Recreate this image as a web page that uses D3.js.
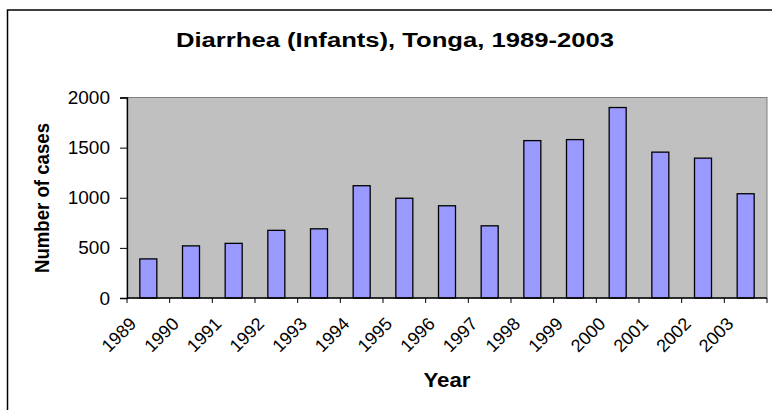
<!DOCTYPE html>
<html>
<head>
<meta charset="utf-8">
<script src="https://cdn.jsdelivr.net/npm/d3@7"></script>
<style>
  body { margin: 0; background: #fff; }
  text { font-family: Arial, "Liberation Sans", sans-serif; }
</style>
</head>
<body>
<div id="chart"></div>
<script>
// data
var years = ["1989", "1990", "1991", "1992", "1993", "1994", "1995", "1996",
             "1997", "1998", "1999", "2000", "2001", "2002", "2003"];
var cases = [390, 520, 545, 675, 690, 1120, 995, 920,
             720, 1570, 1580, 1900, 1455, 1395, 1040];
var yTicks = [0, 500, 1000, 1500, 2000];

var width = 772,
    height = 410;

var margin = { left: 127, right: 5, top: 97.5, bottom: 112 };
var plotW = width - margin.left - margin.right,
    plotH = height - margin.top - margin.bottom;

var svg = d3.select("#chart").append("svg")
    .attr("width", width)
    .attr("height", height);

// outer chart frame (runs off the right and bottom of the picture)
svg.append("rect")
    .attr("x", 7.5)
    .attr("y", 10)
    .attr("width", 800)
    .attr("height", 500)
    .style("fill", "none")
    .style("stroke", "black")
    .style("stroke-width", 1.5);

// the original font renders wider than Arial, so stretch titles to the measured length
svg.append("text")
    .attr("x", 395)
    .attr("y", 46.7)
    .attr("text-anchor", "middle")
    .attr("font-size", 20)
    .attr("font-weight", "bold")
    .attr("textLength", 438)
    .attr("lengthAdjust", "spacingAndGlyphs")
    .text("Diarrhea (Infants), Tonga, 1989-2003");

var g = svg.append("g")
    .attr("transform", "translate(" + margin.left + "," + margin.top + ")");

var xBand = d3.scaleBand().domain(years).range([0, plotW]);

var y = d3.scaleLinear()
    .domain([0, 2000])
    .range([plotH, 0]);

// plot area
g.append("rect")
    .attr("width", plotW)
    .attr("height", plotH)
    .style("fill", "#c0c0c0")
    .style("stroke", "#808080")
    .style("stroke-width", 1);

// bars
g.selectAll("rect.bar")
    .data(cases)
    .enter().append("rect")
    .attr("class", "bar")
    .attr("x", function(d, i) { return xBand(years[i]) + xBand.bandwidth() / 2 - 8.5; })
    .attr("y", function(d) { return y(d); })
    .attr("width", 17)
    .attr("height", function(d) { return plotH - y(d); })
    .style("fill", "#9999ff")
    .style("stroke", "black")
    .style("stroke-width", 1.3);

// y axis
var yAxis = g.append("g")
    .call(d3.axisLeft(y).tickValues(yTicks).tickFormat(d3.format("d")).tickSize(7).tickPadding(10));
yAxis.select(".domain").attr("stroke", "black").attr("stroke-width", 1.3);
yAxis.selectAll("line").attr("stroke", "black");
yAxis.selectAll("text")
    .attr("font-size", 19)
    .attr("fill", "black")
    .attr("font-family", "Arial, 'Liberation Sans', sans-serif");

// x axis: ticks at band edges, rotated labels
var edges = years.map(function(yr) { return xBand(yr); }).concat([plotW]);
var xAxis = g.append("g").attr("transform", "translate(0," + plotH + ")");
xAxis.append("line")
    .attr("x1", 0).attr("x2", plotW)
    .attr("stroke", "black").attr("stroke-width", 1.3);
xAxis.selectAll("line.tick")
    .data(edges)
    .enter().append("line")
    .attr("class", "tick")
    .attr("x1", function(d) { return d; })
    .attr("x2", function(d) { return d; })
    .attr("y1", 0).attr("y2", 5)
    .attr("stroke", "black");

xAxis.selectAll("text")
    .data(years)
    .enter().append("text")
    .attr("text-anchor", "end")
    .attr("font-size", 18)
    .attr("transform", function(d) {
        return "translate(" + (xBand(d) + xBand.bandwidth() / 2 - 11) + ",27) rotate(-45)";
    })
    .text(function(d) { return d; });

// axis titles
svg.append("text")
    .attr("transform", "translate(49," + 198 + ") rotate(-90)")
    .attr("text-anchor", "middle")
    .attr("font-size", 20)
    .attr("font-weight", "bold")
    .attr("textLength", 150)
    .attr("lengthAdjust", "spacingAndGlyphs")
    .text("Number of cases");

svg.append("text")
    .attr("x", margin.left + plotW / 2)
    .attr("y", 386.7)
    .attr("text-anchor", "middle")
    .attr("font-size", 19.5)
    .attr("font-weight", "bold")
    .attr("textLength", 47)
    .attr("lengthAdjust", "spacingAndGlyphs")
    .text("Year");
</script>
</body>
</html>
